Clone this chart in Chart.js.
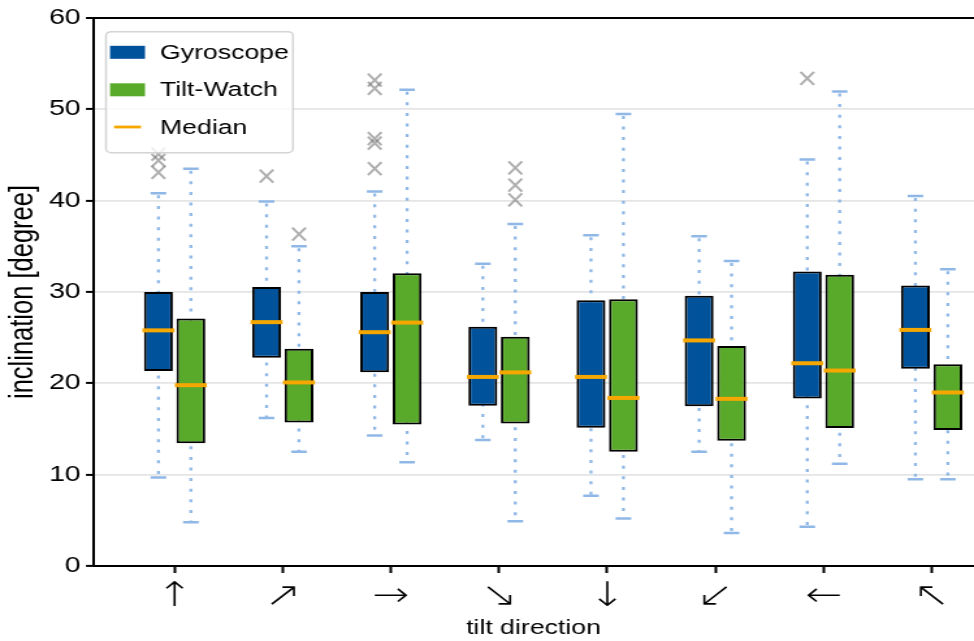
<!DOCTYPE html>
<html>
<head>
<meta charset="utf-8">
<script src="https://cdn.jsdelivr.net/npm/chart.js@4.4.0/dist/chart.umd.min.js"></script>
<style>
  html, body { margin: 0; padding: 0; background: #fff; overflow: hidden; }
  /* the reference is a horizontally stretched figure, so draw narrow and stretch */
  #wrap { width: 749px; height: 641px; transform: scaleX(1.3004); transform-origin: 0 0; }
</style>
</head>
<body>
<div id="wrap"><canvas id="chart"></canvas></div>
<script>
// ── Data ──
const CATS = ['↑', '↗', '→', '↘', '↓', '↙', '←', '↖'];
const Y_TICKS = [0, 10, 20, 30, 40, 50, 60];

const GYRO_MIN = [9.7, 16.2, 14.3, 13.8, 7.7, 12.5, 4.3, 9.5];
const GYRO_Q1  = [21.35, 22.8, 21.2, 17.55, 15.15, 17.5, 18.35, 21.6];
const GYRO_MED = [25.8, 26.7, 25.6, 20.7, 20.7, 24.7, 22.2, 25.85];
const GYRO_Q3  = [30.0, 30.55, 30.0, 26.2, 29.1, 29.6, 32.25, 30.7];
const GYRO_MAX = [40.8, 39.9, 41.0, 33.1, 36.2, 36.1, 44.5, 40.5];
const GYRO_OUT = [[45.1, 44.4, 43.1], [42.7], [53.2, 52.3, 46.8, 46.3, 43.5], [], [], [], [53.4], []];

const TILT_MIN = [4.8, 12.5, 11.35, 4.9, 5.2, 3.6, 11.2, 9.5];
const TILT_Q1  = [13.45, 15.7, 15.5, 15.6, 12.5, 13.7, 15.1, 14.9];
const TILT_MED = [19.8, 20.1, 26.65, 21.2, 18.4, 18.3, 21.4, 19.0];
const TILT_Q3  = [27.1, 23.8, 32.05, 25.1, 29.2, 24.1, 31.9, 22.1];
const TILT_MAX = [43.5, 35.0, 52.15, 37.45, 49.5, 33.4, 51.95, 32.5];
const TILT_OUT = [[], [36.35], [], [43.6, 41.7, 40.1], [], [], [], []];

// ── Styles ──
const BLUE = '#00529b';
const GREEN = '#59aa2a';
const ORANGE = '#f5a700';
const WHISKER = '#8fb8e6';
const FLIER = 'rgba(120,120,120,0.6)';

Chart.defaults.font.family = "'Liberation Sans', Arial, sans-serif";
Chart.defaults.color = '#000';

const SERIES = [
  { min: GYRO_MIN, med: GYRO_MED, max: GYRO_MAX, out: GYRO_OUT },
  { min: TILT_MIN, med: TILT_MED, max: TILT_MAX, out: TILT_OUT }
];

// whiskers behind the boxes; medians, fliers and the framed legend on top
const boxExtras = {
  id: 'boxExtras',
  beforeDatasetsDraw(chart) {
    const { ctx, scales: { y } } = chart;
    SERIES.forEach((s, d) => {
      chart.getDatasetMeta(d).data.forEach((bar, i) => {
        const top = y.getPixelForValue(s.max[i]);
        const bot = y.getPixelForValue(s.min[i]);
        ctx.save();
        ctx.strokeStyle = WHISKER;
        ctx.lineWidth = 2.3;
        ctx.setLineDash([3, 7.6]);
        ctx.beginPath();
        ctx.moveTo(bar.x, top + 2);
        ctx.lineTo(bar.x, bot);
        ctx.stroke();
        ctx.setLineDash([]);
        ctx.lineWidth = 2.5;
        ctx.beginPath();
        ctx.moveTo(bar.x - 6, top); ctx.lineTo(bar.x + 6, top);
        ctx.moveTo(bar.x - 6, bot); ctx.lineTo(bar.x + 6, bot);
        ctx.stroke();
        ctx.restore();
      });
    });
  },
  afterDatasetsDraw(chart) {
    const { ctx, scales: { y } } = chart;
    SERIES.forEach((s, d) => {
      chart.getDatasetMeta(d).data.forEach((bar, i) => {
        ctx.save();
        // median
        const m = y.getPixelForValue(s.med[i]);
        ctx.strokeStyle = ORANGE;
        ctx.lineWidth = 4;
        ctx.beginPath();
        ctx.moveTo(bar.x - bar.width / 2 - 1.2, m);
        ctx.lineTo(bar.x + bar.width / 2 + 1.2, m);
        ctx.stroke();
        // fliers
        ctx.strokeStyle = FLIER;
        ctx.lineWidth = 2;
        s.out[i].forEach(v => {
          const py = y.getPixelForValue(v);
          ctx.beginPath();
          ctx.moveTo(bar.x - 5.2, py - 6.5); ctx.lineTo(bar.x + 5.2, py + 6.5);
          ctx.moveTo(bar.x - 5.2, py + 6.5); ctx.lineTo(bar.x + 5.2, py - 6.5);
          ctx.stroke();
        });
        ctx.restore();
      });
    });

    // legend
    const x0 = 81.5, y0 = 31.7, w = 143.8, h = 121, r = 4;
    ctx.save();
    ctx.beginPath();
    ctx.moveTo(x0 + r, y0);
    ctx.arcTo(x0 + w, y0, x0 + w, y0 + h, r);
    ctx.arcTo(x0 + w, y0 + h, x0, y0 + h, r);
    ctx.arcTo(x0, y0 + h, x0, y0, r);
    ctx.arcTo(x0, y0, x0 + w, y0, r);
    ctx.closePath();
    ctx.fillStyle = 'rgba(255,255,255,0.8)';
    ctx.fill();
    ctx.strokeStyle = '#d4d4d4';
    ctx.lineWidth = 1.5;
    ctx.stroke();

    const rows = [52.3, 89.8, 127];
    chart.data.datasets.forEach((ds, d) => {
      ctx.fillStyle = ds.backgroundColor;
      ctx.fillRect(84.6, rows[d] - 6.5, 26.9, 13);
    });
    ctx.strokeStyle = ORANGE;
    ctx.lineWidth = 2.8;
    ctx.beginPath();
    ctx.moveTo(87.7, rows[2]);
    ctx.lineTo(108.4, rows[2]);
    ctx.stroke();

    ctx.fillStyle = '#000';
    ctx.font = "20.5px 'Liberation Sans', Arial, sans-serif";
    ctx.textBaseline = 'middle';
    ctx.textAlign = 'left';
    const labels = chart.data.datasets.map(ds => ds.label).concat('Median');
    labels.forEach((t, k) => ctx.fillText(t, 123, rows[k] + 1));
    ctx.restore();
  }
};

const boxStyle = {
  borderColor: '#000',
  borderWidth: 2,
  borderSkipped: false,
  categoryPercentage: 0.6,
  barPercentage: 0.89
};

new Chart(document.getElementById('chart'), {
  type: 'bar',
  data: {
    datasets: [
      {
        label: 'Gyroscope',
        data: CATS.map((_, i) => ({ x: i, y: [GYRO_Q1[i], GYRO_Q3[i]] })),
        backgroundColor: BLUE,
        ...boxStyle
      },
      {
        label: 'Tilt-Watch',
        data: CATS.map((_, i) => ({ x: i, y: [TILT_Q1[i], TILT_Q3[i]] })),
        backgroundColor: GREEN,
        ...boxStyle
      }
    ]
  },
  options: {
    responsive: true, maintainAspectRatio: false,
    animation: false,
    layout: { padding: { top: 18, right: 0, bottom: 0, left: 0 } },
    plugins: { legend: { display: false }, tooltip: { enabled: false } },
    scales: {
      x: {
        type: 'linear', min: -0.755, max: 7.392, offset: false,
        afterBuildTicks: s => { s.ticks = CATS.map((_, i) => ({ value: i })); },
        afterFit: s => { s.height = 75; },
        border: { display: true, color: '#000', width: 2 },
        grid: { offset: false, drawOnChartArea: false, tickColor: '#000', tickLength: 7, tickWidth: 2 },
        ticks: {
          callback: v => CATS[v],
          font: { family: "'DejaVu Sans'", size: 34, weight: 200 },
          color: '#000', padding: 4, maxRotation: 0, autoSkip: false
        },
        title: { display: true, text: 'tilt direction', font: { size: 20.5 }, color: '#000', padding: 0 }
      },
      y: {
        min: 0, max: 60,
        afterBuildTicks: s => { s.ticks = Y_TICKS.map(v => ({ value: v })); },
        afterFit: s => { s.width = 71.5; },
        border: { display: true, color: '#000', width: 2 },
        grid: {
          color: c => (c.tick && c.tick.value === 60 ? '#000' : '#e5e5e5'),
          lineWidth: c => (c.tick && c.tick.value === 60 ? 2 : 1.8),
          tickColor: '#000', tickLength: 5.4, tickWidth: 2
        },
        ticks: { font: { size: 22 }, color: '#000', padding: 4 },
        title: { display: true, text: 'inclination [degree]', font: { size: 25.5 }, color: '#000', padding: { top: 3, bottom: 0 } }
      }
    }
  },
  plugins: [boxExtras]
});
</script>
</body>
</html>
